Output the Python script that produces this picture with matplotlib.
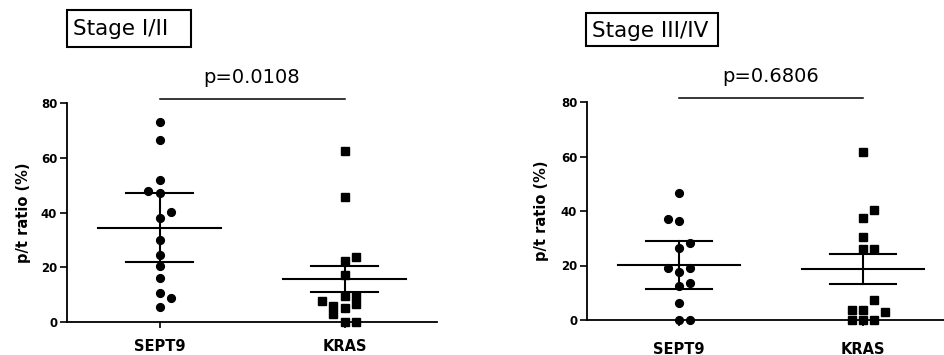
import numpy as np
import matplotlib
matplotlib.use('Agg')
import matplotlib.pyplot as plt
from matplotlib.patches import Rectangle

groups = ['SEPT9', 'KRAS']

# stage I/II
early_sept9 = [72.9, 66.4, 51.9, 48.0, 47.3, 40.2, 38.0, 29.8, 24.3, 20.6, 16.2, 10.7, 8.8, 5.6]
early_sept9_lane = [0, 0, 0, -1, 0, 1, 0, 0, 0, 0, 0, 0, 1, 0]
early_kras = [62.5, 45.5, 23.6, 22.2, 17.1, 9.4, 9.6, 7.8, 5.9, 6.5, 5.2, 3.1, 0.0, 0.0]
early_kras_lane = [0, 0, 1, 0, 0, 0, 1, -2, -1, 1, 0, -1, 0, 1]
early_mean = [34.2, 15.7]
early_hi = [47.0, 20.5]
early_lo = [22.0, 10.9]

# stage III/IV
late_sept9 = [46.7, 37.1, 36.5, 28.1, 26.3, 19.2, 19.2, 17.6, 13.4, 12.3, 6.1, 0.0, 0.0]
late_sept9_lane = [0, -1, 0, 1, 0, -1, 1, 0, 1, 0, 0, 0, 1]
late_kras = [61.6, 40.3, 37.4, 30.4, 26.2, 26.2, 7.2, 3.7, 3.7, 2.8, 0.0, 0.0, 0.0]
late_kras_lane = [0, 1, 0, 0, 0, 1, 1, -1, 0, 2, -1, 0, 1]
late_mean = [20.1, 18.6]
late_hi = [29.0, 24.1]
late_lo = [11.5, 13.1]

titles = ['Stage I/II', 'Stage III/IV']
pvals = ['p=0.0108', 'p=0.6806']

LANE = 0.06


def draw_panel(ax, sept9, sept9_lane, kras, kras_lane, mean, hi, lo, pval, ylab_x, xpad):
    for i, (vals, lanes, mk, ms) in enumerate([(sept9, sept9_lane, 'o', 5.6),
                                               (kras, kras_lane, 's', 5.2)]):
        xs = i + np.array(lanes) * LANE
        ax.plot(xs, vals, linestyle='none', marker=mk, ms=ms, color='black',
                clip_on=False, zorder=3)
        ax.plot([i - 0.33, i + 0.33], [mean[i], mean[i]], color='black', lw=1.5, zorder=2)
        ax.plot([i - 0.18, i + 0.18], [hi[i], hi[i]], color='black', lw=1.5, zorder=2)
        ax.plot([i - 0.18, i + 0.18], [lo[i], lo[i]], color='black', lw=1.5, zorder=2)
        ax.plot([i, i], [lo[i], hi[i]], color='black', lw=1.5, zorder=2)

    ax.plot([0, 1], [81.3, 81.3], color='black', lw=1.1, clip_on=False)
    ax.text(0.5, 87.3, pval, ha='center', va='baseline', fontsize=14)

    ax.set_xlim(-0.5, 1.5)
    ax.set_ylim(0, 80)
    ax.set_yticks([0, 20, 40, 60, 80])
    ax.set_xticks([0, 1])
    ax.set_xticklabels(groups, fontsize=10.5, fontweight='bold')
    for lab in ax.get_yticklabels():
        lab.set_fontweight('bold')
        lab.set_fontsize(8.5)
    ax.tick_params(axis='y', length=5, width=1.2, pad=2)
    ax.tick_params(axis='x', length=4, width=1.2, pad=xpad)
    for s in ['top', 'right']:
        ax.spines[s].set_visible(False)
    for s in ['left', 'bottom']:
        ax.spines[s].set_linewidth(1.3)
    ax.set_ylabel('p/t ratio (%)', fontsize=10.5, fontweight='bold', va='center')
    ax.yaxis.set_label_coords(ylab_x, 0.5)


fig = plt.figure(figsize=(9.44, 3.55), dpi=100)
ax1 = fig.add_axes([67 / 944, 33 / 355, 370 / 944, 219 / 355])
ax2 = fig.add_axes([587 / 944, 35 / 355, 368 / 944, 218 / 355])

draw_panel(ax1, early_sept9, early_sept9_lane, early_kras, early_kras_lane,
           early_mean, early_hi, early_lo, pvals[0], -0.1176, 8.5)
draw_panel(ax2, late_sept9, late_sept9_lane, late_kras, late_kras_lane,
           late_mean, late_hi, late_lo, pvals[1], -0.1236, 11.5)

# boxed stage titles
for (x0, y0, w, h), tx, base, t in [((67, 10, 124, 37), 73, 35, titles[0]),
                                    ((586, 13, 132, 33), 592, 37, titles[1])]:
    fig.patches.append(Rectangle((x0 / 944, 1 - (y0 + h) / 355), w / 944, h / 355,
                                 transform=fig.transFigure, fill=False,
                                 edgecolor='black', lw=1.5))
    fig.text(tx / 944, 1 - base / 355, t, fontsize=15.5, ha='left', va='baseline')

fig.savefig('out.png', dpi=100, facecolor='white')
